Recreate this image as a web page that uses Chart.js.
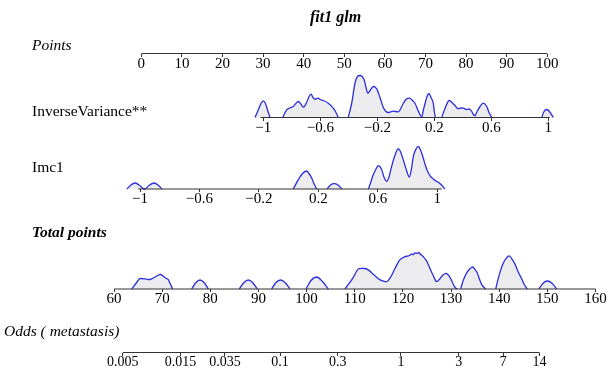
<!DOCTYPE html>
<html><head><meta charset="utf-8">
<script src="https://cdn.jsdelivr.net/npm/chart.js@4.4.1/dist/chart.umd.min.js"></script>
<style>html,body{margin:0;padding:0;background:#fff}#wrap{width:615px;height:380px;position:relative}</style>
</head><body><div id="wrap"><canvas id="c"></canvas></div>
<script>
// ---------- data ----------
const chartTitle = 'fit1 glm';
const rowNames = ['Points', 'InverseVariance**', 'Imc1', 'Total points', 'Odds ( metastasis)'];

const pointsTicks = [0, 10, 20, 30, 40, 50, 60, 70, 80, 90, 100];
const ivTicks = [-1, -0.6, -0.2, 0.2, 0.6, 1];
const imcTicks = [-1, -0.6, -0.2, 0.2, 0.6, 1];
const totalTicks = [60, 70, 80, 90, 100, 110, 120, 130, 140, 150, 160];
const oddsTicks = [0.005, 0.015, 0.035, 0.1, 0.3, 1, 3, 7, 14];

const pointsRange = [0, 100];
const ivRange = [-1.02, 1.01];
const imcRange = [-1.013, 1.03];
const totalRange = [60, 160];
const oddsRange = [0.005, 14];

// density curves (null = gap between humps)
const ivDensX = [-1.058,-1.037,-1.016,-1.0,-0.985,-0.967,-0.953, -0.91,
  -0.864,-0.836,-0.813,-0.790,-0.754,-0.739,-0.719,-0.693,-0.679,-0.665,-0.651,-0.637,-0.614,-0.602,-0.579,-0.544,-0.509,-0.490,-0.474, -0.44,
  -0.404,-0.380,-0.357,-0.339,-0.321,-0.307,-0.293,-0.279,-0.267,-0.251,-0.228,-0.204,-0.181,-0.158,-0.139,-0.123,-0.088,-0.053,-0.018,0.001,0.025,0.044,0.065,0.086,0.100,0.112,0.124,0.135,0.149,0.163,0.177,0.193,0.201,0.208, 0.23,
  0.252,0.275,0.305,0.324,0.345,0.368,0.387,0.404,0.427,0.444,0.463,0.474,0.486,0.500,0.521,0.544,0.568,0.584,0.603, 0.8,
  0.954,0.970,0.989,1.008,1.035];
const ivDens = [0,7,14,16.7,14,6,0, null,
  0,7.7,9.5,11,16,14,10.3,16,21,23.3,20,18.3,19.3,18,17,14.3,9.3,5,0, null,
  0,14,34,41,42,41,38,30,24.3,27,31,28.7,20,10,6,5,6.3,5.7,14,18,19.3,17.5,14,7,2.7,0.5,8,14,21,24,20,14,5,0, null,
  0,9,17,15,12,8.7,9.5,9.3,8,8.5,6,3,2,6,11,14.3,11,5,0, null,
  0,6,8,6,0];

const imcDensX = [-1.088,-1.061,-1.034,-1.007,-0.970,-0.936,-0.906,-0.879,-0.852, -0.5,
  0.031,0.065,0.090,0.121,0.137,0.155,0.171,0.189, 0.22,
  0.258,0.282,0.305,0.332,0.359, 0.45,
  0.536,0.551,0.565,0.584,0.603,0.626,0.641,0.660,0.675,0.693,0.716,0.738,0.753,0.771,0.790,0.812,0.826,0.839,0.857,0.872,0.887,0.902,0.921,0.940,0.958,0.973,0.991,1.007,1.032,1.052];
const imcDens = [0,4,6,4,0,4,6,4,0, null,
  0,9.3,15,18,15.5,11,5,0, null,
  0,4,5.3,4,0, null,
  0,6,12.7,19,23.3,19.3,12,7.7,12,22.7,34,40.3,37,29.3,20,12,20,32.7,40,42.7,39,32.7,23,16,12,10,8,6.7,3.5,0];

const totalDensX = [63.68,64.71,65.40,66.44,67.12,67.83,68.52,69.20,69.70,70.18,70.59,71.28,71.63,72.19, 74,
  76.14,77.03,77.86,78.69,79.58, 83,
  86.02,87.00,87.89,88.76,89.76, 91,
  92.75,93.64,94.62,95.51,96.55, 98,
  99.88,100.91,102.10,103.20,104.51, 106,
  107.97,108.80,109.70,110.74,111.40,112.13,112.81,113.85,114.89,115.93,116.64,117.32,118.36,119.40,120.44,121.06,121.47,121.78,122.16,122.51,122.99,123.34,123.55,124.24,124.94,125.63,126.31,127.02,127.70,128.33,128.95,129.78,130.40,130.82,131.30, 131.6,
  132.00,132.48,133.25,133.93,134.50,134.97,135.45,135.91,136.37,137.20, 138,
  139.27,139.85,140.52,141.20,142.10,142.66,143.28,143.90,144.67,145.25,145.84, 147,
  148.27,149.10,149.99,150.97,151.94];
const totalDens = [0,6.5,10.5,10.2,9.4,10.2,12,14,14.5,13,11.3,9.4,5.7,0, null,
  0,6.5,9,6.5,0, null,
  0,6.5,9,6.5,0, null,
  0,6.5,9,6.5,0, null,
  0,8.5,12,8,0, null,
  0,5.3,11.7,20,20.7,20.5,19.1,14.7,10.3,7.9,7.3,10.8,20.5,29.3,32.3,33,33.7,35.2,34.3,36.1,35.6,36.5,35.2,32.3,27.9,20.5,13.2,7.3,10.3,14.1,15.6,11.7,5.3,1.5,0, null,
  0,7.9,16.1,20.2,22,19.4,16.1,9.7,4.4,0, null,
  0,11.4,22,29,33.2,29.9,24.9,17.6,10.3,4,0, null,
  0,5.7,8,5.7,0];

// ---------- layout (pixels of the 615x380 canvas) ----------
const W = 615, H = 380;
const ROW = { points: 53.5, iv: 117.5, imc: 189, total: 289, odds: 352.5 };
const LABEL_POS = [[32, 46, 'italic'], [32, 112, 'normal'], [32, 168, 'normal'], [32, 233, 'bold italic'], [4, 332, 'italic']];
const SERIF = '"Liberation Serif", "Times New Roman", serif';
const BLUE = 'rgb(45,45,220)';
const FILL = 'rgb(236,236,238)';

function linLimits(pA, vA, pB, vB) {
  const s = (vB - vA) / (pB - pA);
  return { min: vA + (0 - pA) * s, max: vA + (W - pA) * s };
}
function logLimits(pA, vA, pxPerDecade) {
  const la = Math.log10(vA);
  return { min: Math.pow(10, la + (0 - pA) / pxPerDecade), max: Math.pow(10, la + (W - pA) / pxPerDecade) };
}
function fmt(v) { return v < 0 ? '\u2212' + String(-v) : String(v); }

function xAxis(row, lim, tickVals, type, fontSize) {
  return {
    type: type || 'linear', position: { y: row }, min: lim.min, max: lim.max,
    afterBuildTicks: s => { s.ticks = tickVals.map(v => ({ value: v })); },
    ticks: { autoSkip: false, maxRotation: 0, minRotation: 0, padding: 0, color: '#000',
      font: { family: SERIF, size: fontSize || 15, lineHeight: 1 },
      callback: (v, i) => fmt(tickVals[i]) },
    grid: { drawOnChartArea: false, drawTicks: true, tickLength: 3, color: '#333', lineWidth: 1 },
    border: { display: false }
  };
}

function axisLine(axisId, range, row) {
  return { type: 'line', xAxisID: axisId, yAxisID: 'y', order: 0,
    data: [{ x: range[0], y: row }, { x: range[1], y: row }],
    borderColor: '#333', borderWidth: 1, pointRadius: 0, fill: false };
}
function density(axisId, xs, ds, row) {
  return { type: 'line', xAxisID: axisId, yAxisID: 'y', order: 1,
    data: xs.map((x, i) => ({ x: x, y: ds[i] === null ? null : row - ds[i] })),
    borderColor: BLUE, borderWidth: 1.3, backgroundColor: FILL,
    fill: { value: row }, pointRadius: 0, spanGaps: false, cubicInterpolationMode: 'monotone' };
}

const textPlugin = {
  id: 'texts',
  afterDraw(chart) {
    const ctx = chart.ctx, ys = chart.scales.y;
    ctx.save();
    ctx.fillStyle = '#000';
    ctx.textBaseline = 'middle';
    ctx.textAlign = 'left';
    ctx.font = 'bold italic 16px ' + SERIF;
    ctx.fillText(chartTitle, 310, ys.getPixelForValue(18));
    rowNames.forEach((name, i) => {
      const p = LABEL_POS[i];
      ctx.font = p[2] + ' 15.5px ' + SERIF;
      ctx.fillText(name, p[0], ys.getPixelForValue(p[1]));
    });
    ctx.restore();
  }
};

new Chart(document.getElementById('c'), {
  type: 'line',
  data: {
    datasets: [
      density('xIv', ivDensX, ivDens, ROW.iv),
      density('xImc', imcDensX, imcDens, ROW.imc),
      density('xTot', totalDensX, totalDens, ROW.total),
      axisLine('xPts', pointsRange, ROW.points),
      axisLine('xIv', ivRange, ROW.iv),
      axisLine('xImc', imcRange, ROW.imc),
      axisLine('xTot', totalRange, ROW.total),
      axisLine('xOdds', oddsRange, ROW.odds)
    ]
  },
  options: {
    responsive: true, maintainAspectRatio: false, animation: false, events: [],
    layout: { padding: 0 },
    plugins: { legend: { display: false }, tooltip: { enabled: false }, title: { display: false } },
    scales: {
      y: { type: 'linear', display: false, min: 0, max: H, reverse: true },
      xPts: xAxis(ROW.points, linLimits(141.3, 0, 547.3, 100), pointsTicks),
      xIv: xAxis(ROW.iv, linLimits(263.3, -1, 548.3, 1), ivTicks),
      xImc: xAxis(ROW.imc, linLimits(140, -1, 437.3, 1), imcTicks),
      xTot: xAxis(ROW.total, linLimits(114, 60, 595.5, 160), totalTicks),
      xOdds: xAxis(ROW.odds, logLimits(401, 1, 120.9), oddsTicks, 'logarithmic', 14)
    }
  },
  plugins: [textPlugin]
});
</script>
</body></html>
